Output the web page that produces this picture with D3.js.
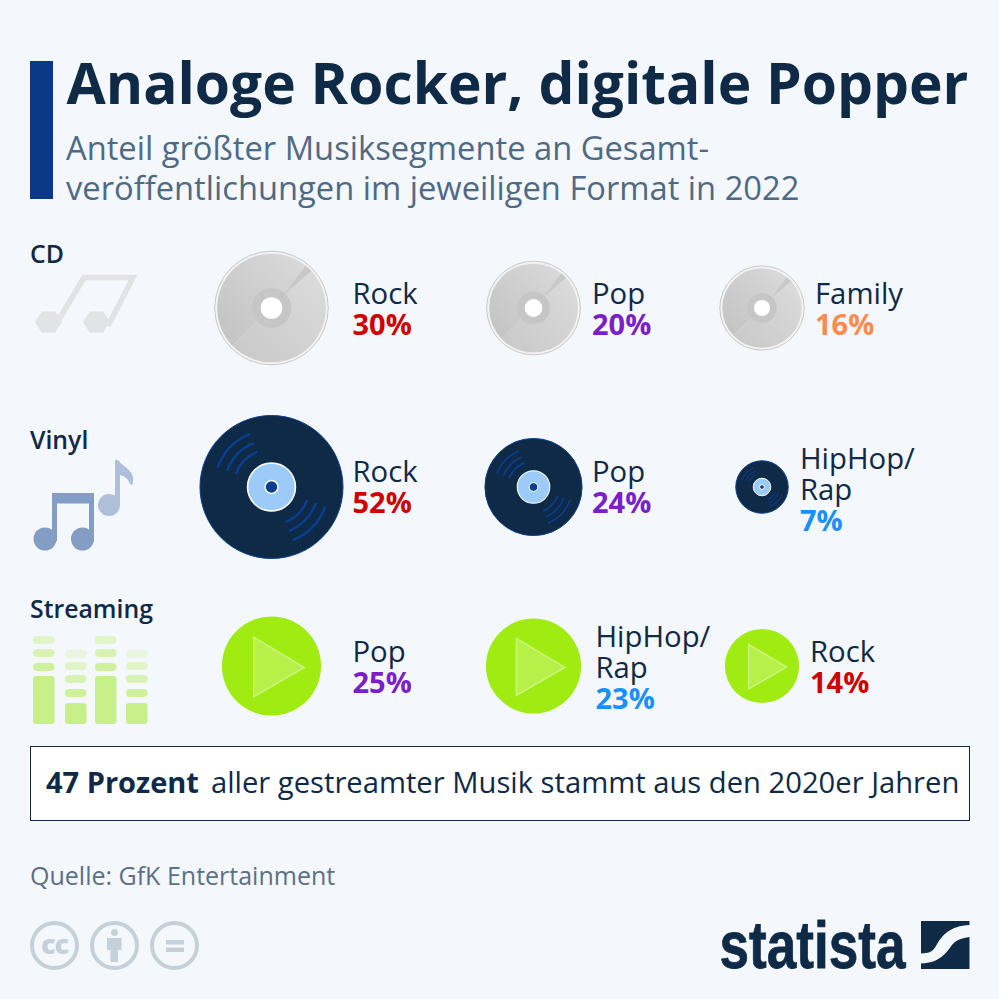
<!DOCTYPE html>
<html>
<head>
<meta charset="utf-8">
<script src="https://cdn.jsdelivr.net/npm/d3@7"></script>
<style>
	html, body { margin: 0; padding: 0; background: #f4f7fb; }
	text { font-family: "Open Sans", sans-serif; }
</style>
</head>
<body>
<div id="chart"></div>
<script>
const formats = ['CD', 'Vinyl', 'Streaming'];
const cdGenres = ['Rock', 'Pop', 'Family'];
const cdShares = [30, 20, 16];
const vinylGenres = ['Rock', 'Pop', 'HipHop/Rap'];
const vinylShares = [52, 24, 7];
const streamingGenres = ['Pop', 'HipHop/Rap', 'Rock'];
const streamingShares = [25, 23, 14];
const genreNames = ['Rock', 'Pop', 'Family', 'HipHop/Rap'];
const genreColors = ['#d00000', '#7b1fc8', '#ff8a4f', '#1a90ff'];

const width = 999;
const height = 999;
const navy = '#0f2a47';
const rowY = [308, 487, 666];
const discX = [271.5, 533.5, 762];
const labelX = [[352.5, 592, 815], [352.5, 592, 800], [352.5, 595.5, 810]];
const labelTop = [[-4, -4], [-5, -18], [-4, -19]]; // first baseline for one and two line names

const color = d3.scaleOrdinal().domain(genreNames).range(genreColors);
const radius = d3.scaleSqrt().domain([0, 52]).range([0, 71.5]);

const svg = d3.select('#chart')
	.append('svg')
	.attr('width', width)
	.attr('height', height)
	.style('display', 'block');

svg.append('rect').attr('width', width).attr('height', height).attr('fill', '#f4f7fb');

const defs = svg.append('defs');
const cdGradA = defs.append('linearGradient')
	.attr('id', 'cdGradA')
	.attr('x1', 0).attr('y1', 1).attr('x2', 1).attr('y2', 0);
cdGradA.append('stop').attr('offset', '0%').attr('stop-color', '#c8c8c8');
cdGradA.append('stop').attr('offset', '100%').attr('stop-color', '#dcdcdc');
const cdGradB = defs.append('linearGradient')
	.attr('id', 'cdGradB')
	.attr('x1', 0).attr('y1', 1).attr('x2', 1).attr('y2', 0);
cdGradB.append('stop').attr('offset', '0%').attr('stop-color', '#c2c2c2');
cdGradB.append('stop').attr('offset', '100%').attr('stop-color', '#dadada');

// header
svg.append('rect').attr('x', 30).attr('y', 61).attr('width', 23).attr('height', 138).attr('fill', '#0a3a85');
svg.append('text')
	.attr('x', 66.5).attr('y', 104)
	.attr('fill', navy)
	.style('font-size', '56.9px').style('font-weight', 700)
	.text('Analoge Rocker, digitale Popper');
svg.selectAll('.sub')
	.data(['Anteil größter Musiksegmente an Gesamt-', 'veröffentlichungen im jeweiligen Format in 2022'])
	.enter()
	.append('text')
	.attr('class', 'sub')
	.attr('x', 66)
	.attr('y', (d, i) => 160 + i * 40)
	.attr('fill', '#4f6a85')
	.style('font-size', '32.7px')
	.text(d => d);

// row titles
svg.selectAll('.format')
	.data(formats)
	.enter()
	.append('text')
	.attr('class', 'format')
	.attr('x', 30)
	.attr('y', (d, i) => [263, 449, 618][i])
	.attr('fill', navy)
	.style('font-size', '24.8px').style('font-weight', 600)
	.text(d => d);

function drawCd(g, r) {
	const rim = r + 2.5;
	g.append('circle').attr('r', rim).attr('fill', '#f2f2f2').attr('stroke', '#c9c9c9').attr('stroke-width', 1);
	const sector = d3.arc().innerRadius(0).outerRadius(r);
	g.append('path').attr('d', sector({ startAngle: 0.75, endAngle: 3.95 })).attr('fill', 'url(#cdGradA)');
	g.append('path').attr('d', sector({ startAngle: 3.95, endAngle: 7.03 })).attr('fill', 'url(#cdGradB)');
	// glare, narrow at the hub and wide at the rim
	const glare = d3.line();
	const a0 = 0.68, a1 = 0.82, h = 0.75;
	g.append('path')
		.attr('d', glare([
			[r * 0.3 * Math.sin(h), -r * 0.3 * Math.cos(h)],
			[r * Math.sin(a0), -r * Math.cos(a0)],
			[r * Math.sin(a1), -r * Math.cos(a1)]
		]) + 'Z')
		.attr('fill', '#c8c8c8');
	g.append('circle').attr('r', rim * 0.35).attr('fill', '#c6c6c6');
	g.append('circle').attr('r', rim * 0.19).attr('fill', '#ffffff');
}

function drawVinyl(g, r) {
	g.append('circle').attr('r', r).attr('fill', navy).attr('stroke', '#0a3f8f').attr('stroke-width', 1);
	const groove = d3.arc();
	[0.53, 0.66, 0.8].forEach(function (f) {
		[[-70, -22], [110, 158]].forEach(function (a) {
			g.append('path')
				.attr('d', groove({
					innerRadius: r * f - r * 0.017,
					outerRadius: r * f + r * 0.017,
					startAngle: a[0] * Math.PI / 180,
					endAngle: a[1] * Math.PI / 180,
					cornerRadius: r * 0.017
				}))
				.attr('fill', '#0a3f8f');
		});
	});
	g.append('circle').attr('r', r * 0.335).attr('fill', '#9ccbfa').attr('stroke', '#ffffff').attr('stroke-width', Math.max(1, r * 0.022));
	g.append('circle').attr('r', r * 0.09).attr('fill', '#0a3f8f').attr('stroke', '#ffffff').attr('stroke-width', Math.max(1, r * 0.02));
}

function drawPlay(g, r) {
	g.append('circle').attr('r', r).attr('fill', '#a0ec12');
	const tri = d3.line();
	g.append('path')
		.attr('d', tri([[-0.36 * r, -0.58 * r], [0.66 * r, 0.03 * r], [-0.36 * r, 0.62 * r]]) + 'Z')
		.attr('fill', '#b8f04a')
		.attr('stroke', '#c9f57c')
		.attr('stroke-width', 1.5);
}

function drawRow(genres, shares, rowIndex, drawDisc) {
	const row = svg.selectAll('.item-' + rowIndex)
		.data(genres.map((d, i) => ({ genre: d, share: shares[i], i: i })))
		.enter()
		.append('g')
		.attr('class', 'item-' + rowIndex);

	row.append('g')
		.attr('transform', d => 'translate(' + discX[d.i] + ',' + rowY[rowIndex] + ')')
		.each(function (d) { drawDisc(d3.select(this), radius(d.share)); });

	row.each(function (d) {
		const lines = d.genre === 'HipHop/Rap' ? ['HipHop/', 'Rap'] : [d.genre];
		const x = labelX[rowIndex][d.i];
		const top = rowY[rowIndex] + labelTop[rowIndex][lines.length - 1];
		const g = d3.select(this);
		lines.forEach(function (line, k) {
			g.append('text')
				.attr('x', x).attr('y', top + k * 31)
				.attr('fill', navy)
				.style('font-size', '29.3px')
				.text(line);
		});
		g.append('text')
			.attr('x', x).attr('y', top + lines.length * 31)
			.attr('fill', color(d.genre))
			.style('font-size', '29px').style('font-weight', 700)
			.text(d.share + '%');
	});
}

drawRow(cdGenres, cdShares, 0, drawCd);
drawRow(vinylGenres, vinylShares, 1, drawVinyl);
drawRow(streamingGenres, streamingShares, 2, drawPlay);

// icon: CD notes
const cdIcon = svg.append('g');
cdIcon.append('path')
	.attr('d', 'M55 326L84 277.5H133L108 326')
	.attr('fill', 'none').attr('stroke', '#e1e3e5').attr('stroke-width', 5.5);
[48.5, 96.5].forEach(function (x) {
	cdIcon.append('path')
		.attr('d', d3.line()(d3.range(6).map(i => [x + 13.5 * Math.cos(i * Math.PI / 3), 322 + 12 * Math.sin(i * Math.PI / 3)])) + 'Z')
		.attr('fill', '#e1e3e5');
});

// icon: vinyl notes
const vinylIcon = svg.append('g');
vinylIcon.append('path')
	.attr('d', 'M54.5 495V541M91.5 495V541')
	.attr('stroke', '#849dc4').attr('stroke-width', 5);
vinylIcon.append('rect').attr('x', 52).attr('y', 493).attr('width', 42).attr('height', 10.5).attr('fill', '#849dc4');
vinylIcon.selectAll('.head').data([45, 82.5]).enter().append('circle')
	.attr('cx', d => d).attr('cy', 539).attr('r', 11.5).attr('fill', '#849dc4');
vinylIcon.append('circle').attr('cx', 109).attr('cy', 505).attr('r', 11).attr('fill', '#adbfd9');
vinylIcon.append('path')
	.attr('d', 'M115 505V461Q116 458 119 461C124 468 135 470 133 483Q132 486 130 484C128 478 124 476 120 475V505Z')
	.attr('fill', '#adbfd9');

// icon: equaliser
const eqX = [33, 65, 95, 126];
const eqBarTop = [676, 703, 676, 703];
const eqPills = [[667, 653, 640], [693, 679, 666, 654], [667, 653, 640], [693, 679, 666, 654]];
const eq = svg.append('g');
eqX.forEach(function (x, i) {
	eq.append('rect').attr('x', x).attr('y', eqBarTop[i]).attr('width', 21.5).attr('height', 724 - eqBarTop[i]).attr('rx', 3).attr('fill', '#c8f08a');
	eqPills[i].forEach(function (y, k) {
		eq.append('rect').attr('x', x).attr('y', y - 4).attr('width', 21.5).attr('height', 8).attr('rx', 4)
			.attr('fill', '#c8f08a').attr('opacity', 0.85 - k * 0.2);
	});
});

// box
svg.append('rect')
	.attr('x', 30.5).attr('y', 746.5).attr('width', 939).attr('height', 74)
	.attr('fill', '#ffffff').attr('stroke', navy).attr('stroke-width', 1);
svg.append('text')
	.attr('x', 46).attr('y', 792.5).attr('fill', navy)
	.style('font-size', '29px').style('font-weight', 700)
	.text('47 Prozent');
svg.append('text')
	.attr('x', 211).attr('y', 792.5).attr('fill', navy)
	.style('font-size', '29.2px')
	.text('aller gestreamter Musik stammt aus den 2020er Jahren');

// source
svg.append('text')
	.attr('x', 30).attr('y', 884.5).attr('fill', '#5b7089')
	.style('font-size', '25px')
	.text('Quelle: GfK Entertainment');

// licence icons
const lic = svg.append('g').attr('fill', '#c5d1da');
[54.5, 114.5, 174.5].forEach(function (x) {
	lic.append('circle').attr('cx', x).attr('cy', 945.5).attr('r', 22.5)
		.attr('fill', 'none').attr('stroke', '#c5d1da').attr('stroke-width', 4);
});
lic.append('text').attr('x', 54.5).attr('y', 954).attr('text-anchor', 'middle')
	.attr('fill', '#c5d1da')
	.style('font-size', '27px').style('font-weight', 800).style('letter-spacing', '-1px')
	.text('cc');
lic.append('circle').attr('cx', 114.5).attr('cy', 932.5).attr('r', 3.5);
lic.append('path').attr('d', 'M107 938H121.5V950H118V962H110.5V950H107Z');
lic.append('rect').attr('x', 166).attr('y', 940).attr('width', 18).attr('height', 4.5);
lic.append('rect').attr('x', 166).attr('y', 947.5).attr('width', 18).attr('height', 4.5);

// logo
svg.append('text')
	.attr('x', 719.5).attr('y', 968)
	.attr('textLength', 186).attr('lengthAdjust', 'spacingAndGlyphs')
	.attr('fill', navy).attr('stroke', navy).attr('stroke-width', 0.8)
	.style('font-family', '"Liberation Sans Narrow", "Liberation Sans", sans-serif')
	.style('font-size', '66px').style('font-weight', 700)
	.text('statista');
svg.append('path')
	.attr('d', 'M921 921H969.5V925C950 926 942 935 936 946C932 953 928 953 921 953.5Z')
	.attr('fill', navy);
svg.append('path')
	.attr('d', 'M969.5 937V969H921V963.5C940 963 947 952 952 945C956 940 962 938 969.5 937Z')
	.attr('fill', navy);
</script>
</body>
</html>
